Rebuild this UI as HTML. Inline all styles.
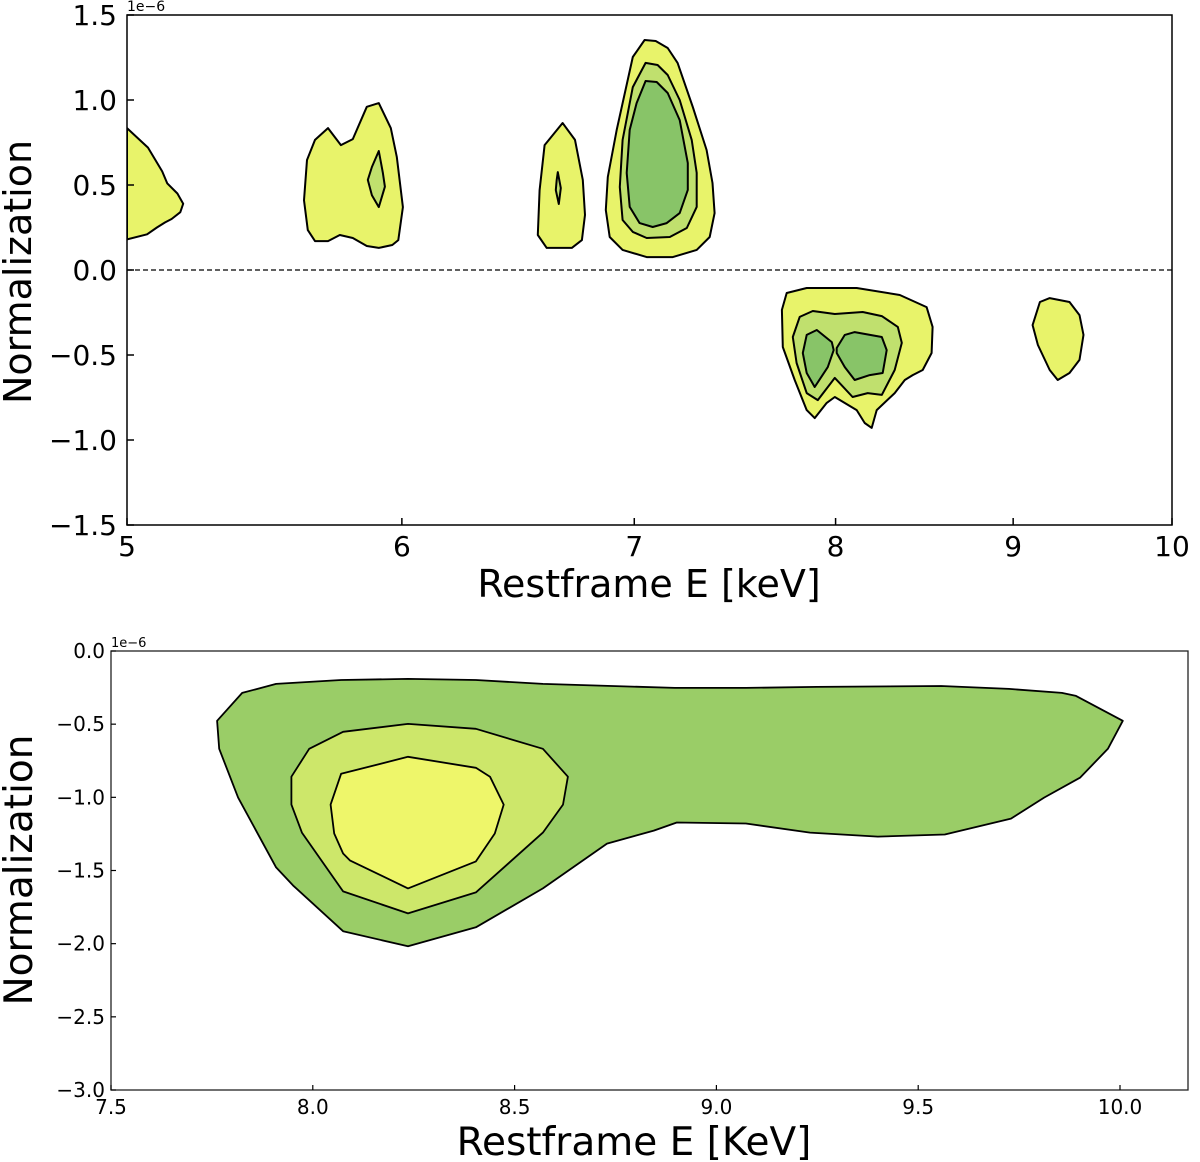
<!DOCTYPE html>
<html><head><meta charset="utf-8"><style>
html,body{margin:0;padding:0;background:#fff;}
svg{display:block;font-family:"DejaVu Sans","Liberation Sans",sans-serif;}
</style></head><body>
<svg id="chart" width="1200" height="1162" viewBox="0 0 1200 1162" xmlns="http://www.w3.org/2000/svg">
<g id="topPanel"></g>
<g id="botPanel"></g>
</svg>
<script>
// ---- Top panel data (E in keV, Normalization in 1e-6) ----
const topXTicks = [5, 6, 7, 8, 9, 10];
const topYTicks = [1.5, 1.0, 0.5, 0.0, -0.5, -1.0, -1.5];
const topYTickLabels = ["1.5", "1.0", "0.5", "0.0", "\u22120.5", "\u22121.0", "\u22121.5"];
const blob1Outer = [[5.0,0.835],[5.07,0.72],[5.118,0.58],[5.135,0.51],[5.17,0.45],[5.19,0.39],[5.18,0.34],[5.15,0.30],[5.128,0.28],[5.10,0.25],[5.067,0.21],[5.0,0.18]];
const blob2Outer = [[5.664,0.765],[5.713,0.835],[5.762,0.735],[5.808,0.77],[5.862,0.96],[5.909,0.982],[5.956,0.835],[5.98,0.665],[6.004,0.37],[5.986,0.176],[5.962,0.147],[5.909,0.13],[5.862,0.141],[5.808,0.188],[5.758,0.206],[5.713,0.17],[5.664,0.17],[5.637,0.235],[5.623,0.41],[5.634,0.647]];
const blob2Inner = [[5.909,0.70],[5.925,0.57],[5.933,0.49],[5.909,0.37],[5.882,0.44],[5.866,0.53],[5.882,0.606]];
const blob3Outer = [[6.675,0.865],[6.73,0.765],[6.765,0.53],[6.775,0.324],[6.761,0.176],[6.716,0.13],[6.605,0.13],[6.566,0.206],[6.574,0.47],[6.596,0.735]];
const blob3Inner = [[6.654,0.576],[6.667,0.482],[6.658,0.388],[6.645,0.47],[6.649,0.53]];
const blob4Outer = [[7.048,1.353],[7.100,1.347],[7.157,1.306],[7.204,1.218],[7.277,0.959],[7.344,0.706],[7.373,0.512],[7.383,0.335],[7.359,0.194],[7.296,0.118],[7.181,0.076],[7.058,0.076],[6.946,0.118],[6.887,0.194],[6.869,0.353],[6.878,0.547],[6.919,0.824],[6.993,1.253]];
const blob4Mid = [[7.053,1.218],[7.109,1.206],[7.157,1.147],[7.214,1.0],[7.272,0.765],[7.296,0.571],[7.296,0.371],[7.248,0.247],[7.167,0.194],[7.058,0.188],[6.993,0.224],[6.946,0.294],[6.933,0.488],[6.946,0.765],[6.993,1.076]];
const blob4Inner = [[7.053,1.112],[7.105,1.106],[7.157,1.041],[7.214,0.882],[7.253,0.629],[7.253,0.471],[7.214,0.335],[7.152,0.276],[7.086,0.253],[7.025,0.276],[6.979,0.371],[6.965,0.571],[6.979,0.824],[7.011,0.982]];
const blob5Outer = [[7.745,-0.135],[7.848,-0.106],[8.113,-0.106],[8.348,-0.147],[8.498,-0.218],[8.532,-0.335],[8.526,-0.488],[8.476,-0.588],[8.420,-0.618],[8.376,-0.647],[8.320,-0.724],[8.221,-0.824],[8.194,-0.929],[8.156,-0.9],[8.113,-0.824],[7.996,-0.747],[7.953,-0.782],[7.890,-0.871],[7.848,-0.824],[7.786,-0.647],[7.725,-0.453],[7.720,-0.235]];
const blob5Mid = [[7.812,-0.276],[7.880,-0.241],[7.996,-0.259],[8.145,-0.247],[8.249,-0.271],[8.337,-0.335],[8.359,-0.429],[8.320,-0.588],[8.249,-0.735],[8.172,-0.724],[8.091,-0.747],[7.996,-0.635],[7.906,-0.765],[7.848,-0.724],[7.796,-0.547],[7.776,-0.394]];
const blob5InnerL = [[7.848,-0.382],[7.901,-0.353],[7.980,-0.424],[7.990,-0.471],[7.959,-0.571],[7.890,-0.688],[7.848,-0.606],[7.828,-0.488]];
const blob5InnerR = [[8.006,-0.459],[8.049,-0.382],[8.102,-0.365],[8.249,-0.394],[8.276,-0.471],[8.254,-0.606],[8.183,-0.618],[8.102,-0.647],[8.049,-0.571],[8.006,-0.488]];
const blob6Outer = [[9.161,-0.188],[9.221,-0.165],[9.343,-0.188],[9.405,-0.265],[9.430,-0.382],[9.405,-0.529],[9.343,-0.606],[9.270,-0.647],[9.221,-0.588],[9.149,-0.441],[9.117,-0.324]];

// ---- Bottom panel data ----
const botXTicks = [7.5, 8.0, 8.5, 9.0, 9.5, 10.0];
const botXTickLabels = ["7.5", "8.0", "8.5", "9.0", "9.5", "10.0"];
const botYTicks = [0.0, -0.5, -1.0, -1.5, -2.0, -2.5, -3.0];
const botYTickLabels = ["0.0", "\u22120.5", "\u22121.0", "\u22121.5", "\u22122.0", "\u22122.5", "\u22123.0"];
const botOuter = [[7.763,-0.477],[7.825,-0.286],[7.909,-0.225],[8.070,-0.198],[8.236,-0.191],[8.404,-0.198],[8.570,-0.225],[8.897,-0.252],[9.073,-0.252],[9.249,-0.245],[9.557,-0.239],[9.725,-0.259],[9.856,-0.286],[9.891,-0.307],[10.007,-0.477],[9.970,-0.668],[9.901,-0.866],[9.812,-1.002],[9.730,-1.145],[9.566,-1.254],[9.400,-1.268],[9.232,-1.241],[9.073,-1.179],[8.902,-1.172],[8.845,-1.227],[8.729,-1.316],[8.570,-1.622],[8.404,-1.888],[8.236,-2.018],[8.075,-1.915],[7.951,-1.602],[7.909,-1.479],[7.815,-1.002],[7.768,-0.668]];
const botMid = [[7.947,-0.859],[7.991,-0.668],[8.075,-0.552],[8.236,-0.498],[8.404,-0.532],[8.570,-0.668],[8.632,-0.859],[8.620,-1.050],[8.570,-1.241],[8.404,-1.650],[8.236,-1.793],[8.075,-1.643],[7.973,-1.241],[7.947,-1.050]];
const botInner = [[8.070,-0.839],[8.236,-0.723],[8.404,-0.798],[8.439,-0.859],[8.473,-1.050],[8.451,-1.247],[8.404,-1.438],[8.236,-1.622],[8.092,-1.431],[8.075,-1.384],[8.053,-1.247],[8.044,-1.050]];

const NS = "http://www.w3.org/2000/svg";
function mk(parent, tag, attrs, text) {
  const el = document.createElementNS(NS, tag);
  for (const k in attrs) el.setAttribute(k, attrs[k]);
  if (text !== undefined) el.textContent = text;
  parent.appendChild(el);
  return el;
}

const T = {x0:127, x1:1172, y0:15, y1:525};
const tx = e => T.x0 + (T.x1 - T.x0) * Math.log(e / 5) / Math.log(2);
const ty = n => T.y0 + (1.5 - n) / 3 * (T.y1 - T.y0);
const B = {x0:111, x1:1188, y0:651, y1:1090};
const bx = e => B.x0 + (e - 7.5) * 403.6;
const by = n => B.y0 + (-n) / 3 * (B.y1 - B.y0);

const topG = document.getElementById('topPanel');
const botG = document.getElementById('botPanel');

function poly(g, pts, fx, fy, fill, name, lw) {
  const p = mk(g, 'polygon', {points: pts.map(q => fx(q[0]).toFixed(1)+','+fy(q[1]).toFixed(1)).join(' '), fill: fill, stroke:'#000', 'stroke-width': lw, 'stroke-linejoin':'round'});
  
  
}

const svgEl = document.getElementById('chart');
const defs = mk(svgEl, 'defs', {});
const cp = mk(defs, 'clipPath', {id:'tclip'});
mk(cp, 'rect', {x:T.x0, y:T.y0, width:T.x1-T.x0, height:T.y1-T.y0});
const tg = mk(topG, 'g', {'clip-path':'url(#tclip)'});



const Y1 = '#e8f36a', Y2 = '#c0e06e', Y3 = '#88c468';
const zl = mk(tg, 'line', {x1:T.x0, x2:T.x1, y1:ty(0), y2:ty(0), stroke:'#000', 'stroke-width':1.3, 'stroke-dasharray':'5,3'});


poly(tg, blob1Outer, tx, ty, Y1, 'contour-5keV-outer', 2);
poly(tg, blob2Outer, tx, ty, Y1, 'contour-5.8keV-outer', 2);
poly(tg, blob2Inner, tx, ty, Y2, 'contour-5.8keV-inner', 2);
poly(tg, blob3Outer, tx, ty, Y1, 'contour-6.7keV-outer', 2);
poly(tg, blob3Inner, tx, ty, Y2, 'contour-6.7keV-inner', 2);
poly(tg, blob4Outer, tx, ty, Y1, 'contour-7.1keV-outer', 2);
poly(tg, blob4Mid, tx, ty, Y2, 'contour-7.1keV-mid', 2);
poly(tg, blob4Inner, tx, ty, Y3, 'contour-7.1keV-inner', 2);
poly(tg, blob5Outer, tx, ty, Y1, 'contour-8keV-outer', 2);
poly(tg, blob5Mid, tx, ty, Y2, 'contour-8keV-mid', 2);
poly(tg, blob5InnerL, tx, ty, Y3, 'contour-8keV-inner-left', 2);
poly(tg, blob5InnerR, tx, ty, Y3, 'contour-8keV-inner-right', 2);
poly(tg, blob6Outer, tx, ty, Y1, 'contour-9.3keV-outer', 2);

const tf = mk(topG, 'rect', {x:T.x0, y:T.y0, width:T.x1-T.x0, height:T.y1-T.y0, fill:'none', stroke:'#000', 'stroke-width':1.5});


topXTicks.forEach(v => {
  const x = tx(v);
  mk(topG, 'line', {x1:x, x2:x, y1:T.y1, y2:T.y1-7, stroke:'#000', 'stroke-width':1.5});
  const t = mk(topG, 'text', {x:x, y:556, 'font-size':28, 'text-anchor':'middle'}, String(v));
  
  
});
topYTicks.forEach((v, i) => {
  const y = ty(v);
  mk(topG, 'line', {x1:T.x0, x2:T.x0+7, y1:y, y2:y, stroke:'#000', 'stroke-width':1.5});
  const t = mk(topG, 'text', {x:117, y:y+10, 'font-size':28, 'text-anchor':'end'}, topYTickLabels[i]);
  
  
});
const te = mk(topG, 'text', {x:127, y:11, 'font-size':14}, '1e\u22126');


const txl = mk(topG, 'text', {x:649, y:597, 'font-size':38, 'text-anchor':'middle'}, 'Restframe E [keV]');


const tyl = mk(topG, 'text', {x:0, y:0, 'font-size':38, 'text-anchor':'middle', transform:'translate(31,272) rotate(-90)'}, 'Normalization');



const G1 = '#9acd67', G2 = '#cde76a', G3 = '#eef66a';
poly(botG, botOuter, bx, by, G1, 'bottom-contour-outer', 1.8);
poly(botG, botMid, bx, by, G2, 'bottom-contour-mid', 1.8);
poly(botG, botInner, bx, by, G3, 'bottom-contour-inner', 1.8);
const bf = mk(botG, 'rect', {x:B.x0, y:B.y0, width:B.x1-B.x0, height:B.y1-B.y0, fill:'none', stroke:'#222', 'stroke-width':1.3});


botXTicks.forEach((v, i) => {
  const x = bx(v);
  mk(botG, 'line', {x1:x, x2:x, y1:B.y1, y2:B.y1-5, stroke:'#000', 'stroke-width':1.2});
  const t = mk(botG, 'text', {x:x, y:1114, 'font-size':20, 'text-anchor':'middle'}, botXTickLabels[i]);
  
  
});
botYTicks.forEach((v, i) => {
  const y = by(v);
  mk(botG, 'line', {x1:B.x0, x2:B.x0+5, y1:y, y2:y, stroke:'#000', 'stroke-width':1.2});
  const t = mk(botG, 'text', {x:105, y:y+7, 'font-size':20, 'text-anchor':'end'}, botYTickLabels[i]);
  
  
});
const be = mk(botG, 'text', {x:111, y:647, 'font-size':13}, '1e\u22126');


const bxl = mk(botG, 'text', {x:634, y:1155, 'font-size':39, 'text-anchor':'middle'}, 'Restframe E [KeV]');


const byl = mk(botG, 'text', {x:0, y:0, 'font-size':39, 'text-anchor':'middle', transform:'translate(32,870) rotate(-90)'}, 'Normalization');


</script>
</body></html>
